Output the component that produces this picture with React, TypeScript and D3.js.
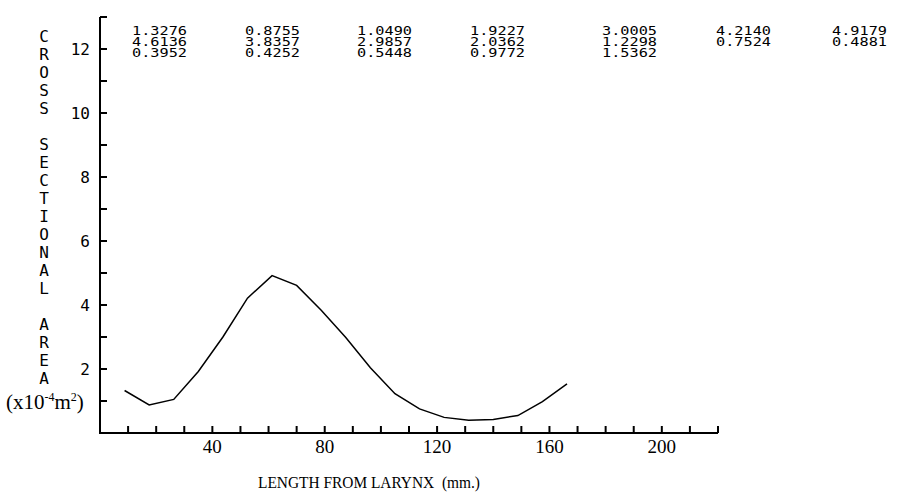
import React from "react";
import * as d3 from "d3";

// Cross-sectional area of the vocal tract (x10^-4 m^2) at each section,
// measured from the larynx towards the lips.
const sectionPositionsMm = [
  8.75, 17.5, 26.25, 35, 43.75, 52.5, 61.25, 70, 78.75, 87.5,
  96.25, 105, 113.75, 122.5, 131.25, 140, 148.75, 157.5, 166.25,
];
const sectionAreas = [
  1.3276, 0.8755, 1.049, 1.9227, 3.0005, 4.214, 4.9179, 4.6136, 3.8357, 2.9857,
  2.0362, 1.2298, 0.7524, 0.4881, 0.3952, 0.4252, 0.5448, 0.9772, 1.5362,
];

const xTickLabels = [40, 80, 120, 160, 200];
const yTickLabels = [2, 4, 6, 8, 10, 12];
const yAxisTitle = "CROSS SECTIONAL AREA";
const xAxisTitle = "LENGTH FROM LARYNX  (mm.)";

const W = 909;
const H = 493;

const x = d3.scaleLinear().domain([0, 220]).range([100, 718]);
const y = d3.scaleLinear().domain([0, 13]).range([433, 17]);

const tableColumns = [132, 245, 357, 470, 602, 716, 832];
const tableRows = [34.5, 45.5, 56.5];
const perRow = 7;

const mono = "'DejaVu Sans Mono', monospace";
const serif = "'Liberation Serif', 'Times New Roman', serif";

export default function App() {
  const line = d3
    .line<number>()
    .x((_, i) => x(sectionPositionsMm[i]))
    .y((d) => y(d));

  const xMinorTicks = d3.range(10, 221, 10);
  const yMinorTicks = d3.range(1, 14, 1);

  return (
    <svg
      width={W}
      height={H}
      style={{ position: "absolute", left: 0, top: 0, background: "#fff" }}
    >
      <rect width={W} height={H} fill="#fff" />

      {/* values table */}
      {sectionAreas.map((v, i) => (
        <text
          key={"t" + i}
          x={tableColumns[i % perRow]}
          y={tableRows[Math.floor(i / perRow)]}
          fontFamily={mono}
          fontSize={12.5}
          textLength={55}
          lengthAdjust="spacingAndGlyphs"
          fill="#000"
        >
          {v.toFixed(4)}
        </text>
      ))}

      {/* axes */}
      <g stroke="#000" strokeWidth={2} fill="none">
        <path d={`M${x(0)},${y(13)}V${y(0)}H${x(220)}`} />
        {yMinorTicks.map((t) => (
          <line key={"yt" + t} x1={x(0)} x2={x(0) + 7} y1={y(t)} y2={y(t)} />
        ))}
        {xMinorTicks.map((t) => (
          <line key={"xt" + t} x1={x(t)} x2={x(t)} y1={y(0)} y2={y(0) - 7} />
        ))}
      </g>

      {/* y tick labels */}
      {yTickLabels.map((t) => (
        <text
          key={"yl" + t}
          x={90}
          y={y(t) + 6}
          textAnchor="end"
          fontFamily={mono}
          fontSize={16}
          fill="#000"
        >
          {t}
        </text>
      ))}

      {/* x tick labels */}
      {xTickLabels.map((t) => (
        <text
          key={"xl" + t}
          x={x(t)}
          y={453}
          textAnchor="middle"
          fontFamily={serif}
          fontSize={19}
          fill="#000"
        >
          {t}
        </text>
      ))}

      {/* vertical y-axis title, one letter per line */}
      {yAxisTitle.split("").map((c, i) =>
        c === " " ? null : (
          <text
            key={"ya" + i}
            x={44}
            y={42 + i * 18}
            textAnchor="middle"
            fontFamily={mono}
            fontSize={16}
            fill="#000"
          >
            {c}
          </text>
        )
      )}

      {/* unit label */}
      <text x={6} y={409} fontFamily={serif} fontSize={21} fill="#000">
        (x10
        <tspan fontSize={12} dy={-8}>-4</tspan>
        <tspan dy={8}>m</tspan>
        <tspan fontSize={12} dy={-8}>2</tspan>
        <tspan dy={8}>)</tspan>
      </text>

      {/* x axis title */}
      <text
        x={258}
        y={488}
        fontFamily={serif}
        fontSize={17}
        textLength={222}
        lengthAdjust="spacingAndGlyphs"
        fill="#000"
        style={{ whiteSpace: "pre" }}
      >
        {xAxisTitle}
      </text>

      {/* area function */}
      <path
        d={line(sectionAreas) ?? ""}
        fill="none"
        stroke="#000"
        strokeWidth={1.5}
      />
    </svg>
  );
}
